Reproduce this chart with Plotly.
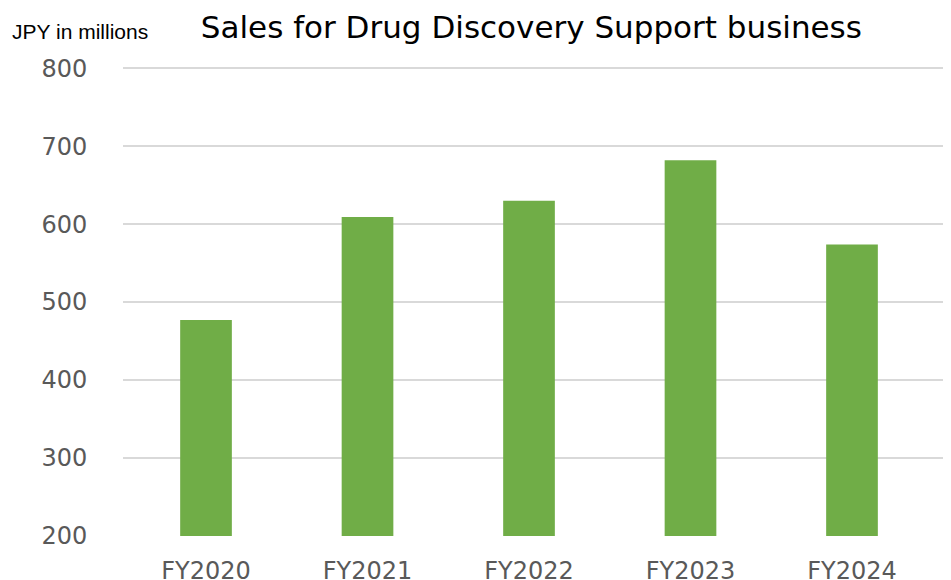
import plotly.graph_objects as go

categories = ["FY2020", "FY2021", "FY2022", "FY2023", "FY2024"]
sales = [477, 609, 630, 682, 574]
y_ticks = [200, 300, 400, 500, 600, 700, 800]

fig = go.Figure()
fig.add_trace(go.Bar(
    x=list(range(len(categories))),
    y=sales,
    marker=dict(color="#70AD47", line=dict(width=0)),
    width=0.32,
))

fig.update_layout(
    width=943, height=572,
    paper_bgcolor="white", plot_bgcolor="white",
    margin=dict(l=115, r=0, t=59, b=44, autoexpand=False),
    showlegend=False,
    font=dict(family="DejaVu Sans", color="#595959"),
    title=dict(text="Sales for Drug Discovery Support business",
               x=0.555, xanchor="center", y=0.967, yanchor="middle",
               font=dict(size=31, color="black", family="DejaVu Sans")),
    annotations=[dict(text="JPY in millions", xref="paper", yref="paper",
                      x=-0.136, y=1.075, xanchor="left", yanchor="middle",
                      showarrow=False,
                      font=dict(size=21, color="black", family="Liberation Sans"))],
)
fig.update_xaxes(
    tickmode="array", tickvals=list(range(len(categories))), ticktext=categories,
    range=[-0.514, 4.613], showgrid=False, zeroline=False, automargin=False,
    showline=False, ticks="outside", ticklen=13, tickcolor="rgba(0,0,0,0)",
    tickfont=dict(size=24, color="#595959"),
)
fig.update_yaxes(
    range=[200, 801.5], tickvals=y_ticks, showgrid=True, gridcolor="#D9D9D9",
    gridwidth=1.5, zeroline=False, showline=False, ticks="outside", automargin=False,
    ticklen=30, tickcolor="rgba(0,0,0,0)",
    tickfont=dict(size=24, color="#595959"),
)

fig.write_html("out.html")
